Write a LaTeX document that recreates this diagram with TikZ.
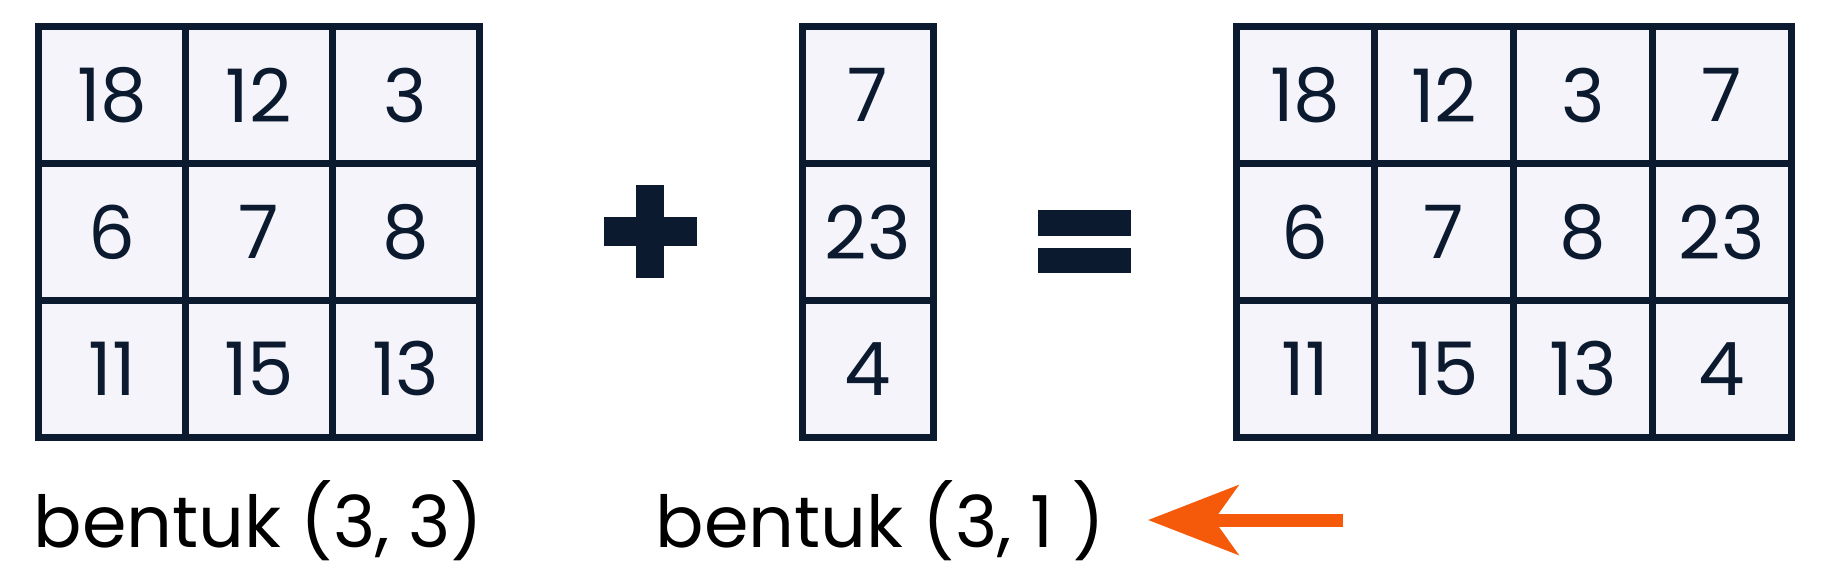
\documentclass[tikz,border=0pt]{standalone}
\usepackage{fontspec}
\setmainfont{Poppins}
\usetikzlibrary{arrows.meta}
\definecolor{gridnavy}{HTML}{0B1A2F}
\definecolor{cellfill}{HTML}{F4F4FA}
\definecolor{arroworange}{HTML}{F55A0A}
\begin{document}
\begin{tikzpicture}[x=.1mm, y=-.1mm,
		cell/.style={rectangle, draw=gridnavy, fill=cellfill, line width=.7mm, inner sep=0pt, minimum height=13.67mm, text=gridnavy, font=\fontsize{21}{21}\selectfont},
		cellL/.style={cell, minimum width=14.67mm},
		cellM/.style={cell, minimum width=13.1mm},
		cellR/.style={cell, minimum width=13.875mm},
		shapetext/.style={anchor=base west, inner sep=0pt, text=black, font=\fontsize{20.4}{20.4}\selectfont}]
		    \useasboundingbox[fill=white] (0,0) rectangle (1824,576);
		    % left matrix
		    \node[cellL] (AA) at (112.3,95.3) {18};
		    \node[cellL] (AB) at (259,95.3) {12};
		    \node[cellL] (AC) at (405.7,95.3) {3};
		    \node[cellL] (AD) at (112.3,232) {6};
		    \node[cellL] (AE) at (259,232) {7};
		    \node[cellL] (AF) at (405.7,232) {8};
		    \node[cellL] (AG) at (112.3,368.7) {11};
		    \node[cellL] (AH) at (259,368.7) {15};
		    \node[cellL] (AI) at (405.7,368.7) {13};
		    
		    % column
		    \node[cellM] (BA) at (867.5,95.3) {7};
		    \node[cellM] (BB) at (867.5,232) {23};
		    \node[cellM] (BC) at (867.5,368.7) {4};
		    
		    % result
		    \node[cellR] (CA) at (1305.4,95.3) {18};
		    \node[cellR] (CB) at (1444.1,95.3) {12};
		    \node[cellR] (CC) at (1582.9,95.3) {3};
		    \node[cellR] (CD) at (1721.6,95.3) {7};
		    \node[cellR] (CE) at (1305.4,232) {6};
		    \node[cellR] (CF) at (1444.1,232) {7};
		    \node[cellR] (CG) at (1582.9,232) {8};
		    \node[cellR] (CH) at (1721.6,232) {23};
		    \node[cellR] (CI) at (1305.4,368.7) {11};
		    \node[cellR] (CJ) at (1444.1,368.7) {15};
		    \node[cellR] (CK) at (1582.9,368.7) {13};
		    \node[cellR] (CL) at (1721.6,368.7) {4};
		    
		    % plus and equals
		    \fill[gridnavy] (604,217) rectangle (697,246);
		    \fill[gridnavy] (636,185) rectangle (664,278);
		    \fill[gridnavy] (1038,210) rectangle (1131,236);
		    \fill[gridnavy] (1038,248) rectangle (1131,273);
		    
		    % labels
		    \node[shapetext] (LA) at (33,547) {bentuk (3, 3)};
		    \node[shapetext] (LB) at (655,547) {bentuk (3, 1 )};
		    
		    \coordinate (TB) at (1343,520);
		    \coordinate (HB) at (1148,520);
		    \draw[arroworange, line width=1.3mm, -{Stealth[length=9mm, width=6.9mm, inset=2.4mm]}] (TB)--(HB);
		\end{tikzpicture}
\end{document}
